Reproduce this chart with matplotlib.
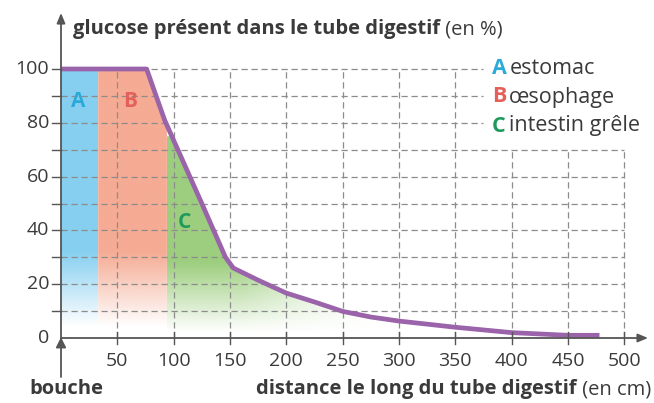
import numpy as np
import matplotlib
matplotlib.use("Agg")
import matplotlib.pyplot as plt
from matplotlib.patches import Polygon
from matplotlib.colors import to_rgb

# ---------------- data ----------------
distance_cm = [0, 76, 92, 125, 146, 153, 175, 200, 225, 250, 275, 300, 350, 400, 450, 478]
glucose_pct = [100, 100, 81, 50, 30, 26, 21.5, 16.7, 13.4, 9.9, 7.8, 6.3, 4, 2, 1, 1]

region_letters = ["A", "B", "C"]
region_names = ["estomac", "œsophage", "intestin grêle"]
region_start = [0, 33, 94]
region_end = [33, 94, 280]

x_ticks = [50, 100, 150, 200, 250, 300, 350, 400, 450, 500]
y_ticks = [0, 20, 40, 60, 80, 100]

# ---------------- style ----------------
FONT = "Open Sans"
plt.rcParams["font.family"] = [FONT, "DejaVu Sans"]
TXT = "#3a3a3a"
AXC = "#555555"
GRID = "#8c8c8c"
fill_cols = ["#80cdf0", "#f5a78e", "#98cc78"]
letter_cols = ["#2aaad8", "#e4605a", "#1f9a5c"]
CURVE = "#9a63aa"

W, H = 654, 403
fig = plt.figure(figsize=(W / 100, H / 100), dpi=100)
px0, py0 = 61, 338           # origin in pixels
sx, sy = 1.1265, 2.69         # px per unit
xr_px, yt_px = 648, 13
ax = fig.add_axes([px0 / W, (H - py0) / H, (xr_px - px0) / W, (py0 - yt_px) / H])
xmax = (xr_px - px0) / sx
ymax = (py0 - yt_px) / sy
ax.set_xlim(0, xmax)
ax.set_ylim(0, ymax)
ax.axis("off")

x = np.array(distance_cm, float)
y = np.array(glucose_pct, float)

# ---------------- grid ----------------
dash = (0, (5, 3))
for gy in range(10, 101, 10):
    xe = 375 if gy >= 80 else 500
    ax.plot([0, xe], [gy, gy], color=GRID, lw=0.9, ls=dash, zorder=2)
for gx in range(50, 501, 50):
    ye = 70 if gx >= 400 else 100
    ax.plot([gx, gx], [0, ye], color=GRID, lw=0.9, ls=dash, zorder=2)

# ---------------- gradient fills ----------------
def grad_fill(x0, x1, color, alpha_fn, cap=None):
    xs = np.linspace(x0, x1, 300)
    ys = np.interp(xs, x, y)
    if cap is not None:
        ys = np.minimum(ys, cap)
    verts = [(x0, 0)] + list(zip(xs, ys)) + [(x1, 0)]
    patch = Polygon(verts, closed=True, transform=ax.transData, facecolor="none", edgecolor="none")
    ax.add_patch(patch)
    nx, ny = 300, 300
    X = np.linspace(x0, x1, nx)[None, :]
    Y = np.linspace(0, 101, ny)[:, None]
    A = alpha_fn(X, Y)
    img = np.zeros((ny, nx, 4))
    img[..., :3] = to_rgb(color)
    img[..., 3] = A
    im = ax.imshow(img, extent=[x0, x1, 0, 101], origin="lower", aspect="auto", zorder=1,
                   interpolation="bilinear")
    im.set_clip_path(patch)

vert = lambda X, Y: np.clip((Y - 4) / 28, 0, 1) * 0.95 + 0 * X
grad_fill(region_start[0], region_end[0], fill_cols[0], vert)
grad_fill(region_start[1], region_end[1], fill_cols[1], vert)
grad_fill(region_start[2], region_end[2], fill_cols[2],
          lambda X, Y: np.clip((Y - 2) / 26, 0, 1) * np.clip((region_end[2] - X) / 120, 0, 1) * 0.95,
          cap=75)
ax.set_xlim(0, xmax)
ax.set_ylim(0, ymax)

# ---------------- curve ----------------
ax.plot(x, y, color=CURVE, lw=3.4, solid_capstyle="butt", solid_joinstyle="round", zorder=5)

# ---------------- axes ----------------
ax.annotate("", xy=(xmax, 0), xytext=(0, 0),
            arrowprops=dict(arrowstyle="-|>,head_length=0.6,head_width=0.25", color=AXC, lw=1.3,
                            shrinkA=0, shrinkB=0), annotation_clip=False, zorder=6)
ax.annotate("", xy=(0, ymax), xytext=(0, 0),
            arrowprops=dict(arrowstyle="-|>,head_length=0.6,head_width=0.25", color=AXC, lw=1.3,
                            shrinkA=0, shrinkB=0), annotation_clip=False, zorder=6)
ax.annotate("", xy=(0, 0.3), xytext=(0, -(377 - py0) / sy),
            arrowprops=dict(arrowstyle="-|>,head_length=0.6,head_width=0.3", color=AXC, lw=1.3,
                            shrinkA=0, shrinkB=0), annotation_clip=False, zorder=6)

# ticks
TICK_FS = 14
for gy in range(10, 101, 10):
    ax.plot([-9 / sx, 0], [gy, gy], color=AXC, lw=1.0, clip_on=False, zorder=6)
for t in y_ticks:
    ax.text(-12 / sx, t, str(t), ha="right", va="center", fontsize=TICK_FS, color=TXT)
for t in x_ticks:
    ax.plot([t, t], [-6 / sy, 6 / sy], color=AXC, lw=1.0, clip_on=False, zorder=6)
    ax.text(t, -23 / sy, str(t), ha="center", va="center", fontsize=TICK_FS, color=TXT)

# region letters
ax.text(15, 88, "A", color=letter_cols[0], fontsize=15, fontweight="bold", ha="center", va="center", zorder=7)
ax.text(61, 88, "B", color=letter_cols[1], fontsize=15, fontweight="bold", ha="center", va="center", zorder=7)
ax.text(110, 43, "C", color=letter_cols[2], fontsize=15, fontweight="bold", ha="center", va="center", zorder=7)

# ---------------- mixed-weight texts ----------------
fig.canvas.draw()
renderer = fig.canvas.get_renderer()

def pair(xpix, ypix, bold, normal, size, c1=TXT, c2=TXT, align="left", gap=0):
    # xpix, ypix in figure pixels (top-left origin), va center
    fx, fy = xpix / W, 1 - ypix / H
    t1 = fig.text(fx, fy, bold, fontsize=size, fontweight="bold", color=c1, ha="left", va="center")
    bb = t1.get_window_extent(renderer)
    t2 = fig.text((bb.x1 + gap) / W, fy, normal, fontsize=size, color=c2, ha="left", va="center")
    if align == "right":
        bb2 = t2.get_window_extent(renderer)
        shift = (xpix - bb2.x1) / W
        t1.set_x(t1.get_position()[0] + shift)
        t2.set_x(t2.get_position()[0] + shift)

pair(73, 29, "glucose présent dans le tube digestif", " (en %)", 14.5)
pair(651, 389, "distance le long du tube digestif", " (en cm)", 14.5, align="right")
fig.text(66 / W, 1 - 389 / H, "bouche", fontsize=14.5, fontweight="bold", color=TXT, ha="center", va="center")

leg_y = [68, 97, 126]
for L, name, c, yy in zip(region_letters, region_names, letter_cols, leg_y):
    pair(492, yy, L, name, 15.5, c1=c, c2=TXT, gap=3)

fig.savefig("out.png", dpi=100)
